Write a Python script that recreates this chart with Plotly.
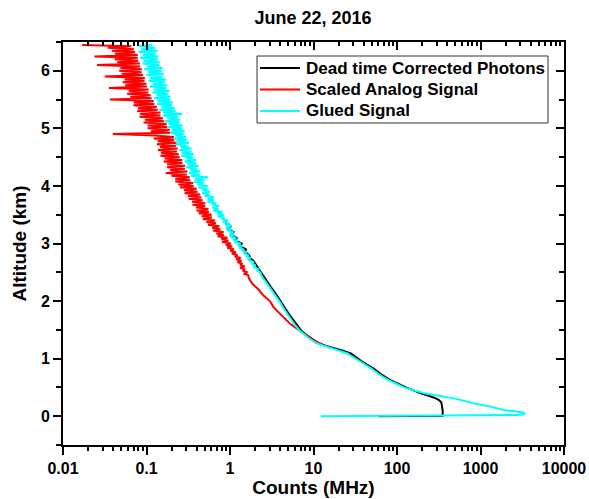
import plotly.graph_objects as go

# ---------------- data ----------------
black_alt = [0.0, 0.01, 0.10, 0.17, 0.24, 0.28, 0.31, 0.35, 0.40,
             0.50, 0.62, 0.72, 0.83, 0.95, 1.03, 1.09, 1.14, 1.18, 1.22,
             1.27, 1.35, 1.42, 1.49, 1.60, 1.72, 1.85, 2.00, 2.12, 2.24,
             2.36, 2.48, 2.55, 2.60, 2.65, 2.70, 2.75, 2.80, 2.85, 2.90,
             2.95, 3.00, 3.05, 3.10, 3.15, 3.20, 3.25, 3.30, 3.35]
black_counts = [60, 352, 352, 348, 340, 318, 292, 245, 193,
                128, 85, 66, 52, 38, 32, 28, 22, 17.5, 14.2,
                11.4, 9.4, 8.1, 7.1, 6.2, 5.4, 4.7, 4.05, 3.55, 3.1,
                2.72, 2.40, 2.22, 2.12, 1.98, 1.90, 1.74, 1.70, 1.52, 1.55,
                1.34, 1.38, 1.17, 1.20, 1.03, 1.10, 0.95, 1.02, 0.88]

red_alt = [1.25, 1.30, 1.40, 1.50, 1.60, 1.70, 1.80, 1.90, 2.00, 2.10, 2.20, 2.30, 2.40,
           2.450, 2.475, 2.500, 2.525, 2.550, 2.575, 2.600, 2.625,
           2.650, 2.675, 2.700, 2.725, 2.750, 2.775, 2.800, 2.825,
           2.850, 2.875, 2.900, 2.925, 2.950, 2.975, 3.000, 3.025,
           3.050, 3.075, 3.100, 3.125, 3.150, 3.175, 3.200, 3.225,
           3.250, 3.275, 3.300, 3.325, 3.350, 3.375, 3.400, 3.425,
           3.450, 3.475, 3.500, 3.525, 3.550, 3.575, 3.600, 3.625,
           3.650, 3.675, 3.700, 3.725, 3.750, 3.775, 3.800, 3.825,
           3.850, 3.875, 3.900, 3.925, 3.950, 3.975, 4.000, 4.025,
           4.050, 4.075, 4.100, 4.125, 4.150, 4.175, 4.200, 4.225,
           4.250, 4.275, 4.300, 4.325, 4.350, 4.375, 4.400, 4.425,
           4.450, 4.475, 4.500, 4.525, 4.550, 4.575, 4.600, 4.625,
           4.650, 4.675, 4.700, 4.725, 4.750, 4.775, 4.800, 4.825,
           4.850, 4.875, 4.900, 4.925, 4.950, 4.975, 5.000, 5.025,
           5.050, 5.075, 5.100, 5.125, 5.150, 5.175, 5.200, 5.225,
           5.250, 5.275, 5.300, 5.325, 5.350, 5.375, 5.400, 5.425,
           5.450, 5.475, 5.500, 5.525, 5.550, 5.575, 5.600, 5.625,
           5.650, 5.675, 5.700, 5.725, 5.750, 5.775, 5.800, 5.825,
           5.850, 5.875, 5.900, 5.925, 5.950, 5.975, 6.000, 6.025,
           6.050, 6.075, 6.100, 6.125, 6.150, 6.175, 6.200, 6.225,
           6.250, 6.275, 6.300, 6.325, 6.350, 6.375, 6.400, 6.425,
           6.450]
red_counts = [12.8, 10.5, 8.3, 6.6, 5.3, 4.5, 3.9, 3.3, 3.0, 2.5, 2.2, 1.85, 1.68,
              1.65, 1.46, 1.62, 1.42, 1.51, 1.32, 1.50, 1.32,
              1.41, 1.23, 1.37, 1.19, 1.34, 1.14, 1.23, 1.05,
              1.18, 1.01, 1.11, 0.924, 1.06, 0.891, 1.02, 0.805,
              0.958, 0.787, 0.932, 0.711, 0.848, 0.686, 0.836, 0.624,
              0.765, 0.612, 0.743, 0.544, 0.679, 0.522, 0.661, 0.473,
              0.605, 0.458, 0.601, 0.422, 0.559, 0.397, 0.551, 0.392,
              0.503, 0.356, 0.505, 0.352, 0.469, 0.319, 0.454, 0.315,
              0.439, 0.286, 0.408, 0.281, 0.398, 0.252, 0.366, 0.241,
              0.362, 0.221, 0.334, 0.221, 0.330, 0.199, 0.305, 0.170,
              0.309, 0.192, 0.288, 0.176, 0.290, 0.176, 0.269, 0.161,
              0.269, 0.165, 0.250, 0.147, 0.244, 0.149, 0.231, 0.137,
              0.236, 0.145, 0.226, 0.133, 0.229, 0.136, 0.216, 0.122,
              0.213, 0.126, 0.0395, 0.193, 0.113, 0.190, 0.103, 0.177,
              0.103, 0.174, 0.0923, 0.163, 0.0955, 0.157, 0.0826, 0.147,
              0.0836, 0.147, 0.0774, 0.136, 0.0790, 0.133, 0.0697, 0.124,
              0.0707, 0.122, 0.0364, 0.115, 0.0640, 0.112, 0.0587, 0.105,
              0.0613, 0.106, 0.0354, 0.101, 0.0555, 0.0996, 0.0518, 0.0947,
              0.0547, 0.0955, 0.0316, 0.0909, 0.0504, 0.0872, 0.0471, 0.0878,
              0.0487, 0.0839, 0.0256, 0.0832, 0.0445, 0.0794, 0.0416, 0.0787,
              0.0238, 0.0785, 0.0419, 0.0730, 0.0385, 0.0706, 0.0343, 0.0657,
              0.017]

cyan_alt = [0.0, 0.02, 0.04, 0.06, 0.08, 0.10, 0.13, 0.17, 0.225, 0.27,
            0.31, 0.35, 0.40, 0.45, 0.50, 0.62, 0.72, 0.83, 0.95, 1.03,
            1.09, 1.14, 1.18, 1.22, 1.27, 1.35, 1.42, 1.49, 1.60, 1.72,
            1.85, 2.00, 2.12, 2.24, 2.36, 2.45,
            2.500, 2.525, 2.550, 2.575, 2.600, 2.625, 2.650, 2.675,
            2.700, 2.725, 2.750, 2.775, 2.800, 2.825, 2.850, 2.875,
            2.900, 2.925, 2.950, 2.975, 3.000, 3.025, 3.050, 3.075,
            3.100, 3.125, 3.150, 3.175, 3.200, 3.225, 3.250, 3.275,
            3.300, 3.325, 3.350, 3.375, 3.400, 3.425, 3.450, 3.475,
            3.500, 3.525, 3.550, 3.575, 3.600, 3.625, 3.650, 3.675,
            3.700, 3.725, 3.750, 3.775, 3.800, 3.825, 3.850, 3.875,
            3.900, 3.925, 3.950, 3.975, 4.000, 4.025, 4.050, 4.075,
            4.100, 4.125, 4.150, 4.175, 4.200, 4.225, 4.250, 4.275,
            4.300, 4.325, 4.350, 4.375, 4.400, 4.425, 4.450, 4.475,
            4.500, 4.525, 4.550, 4.575, 4.600, 4.625, 4.650, 4.675,
            4.700, 4.725, 4.750, 4.775, 4.800, 4.825, 4.850, 4.875,
            4.900, 4.925, 4.950, 4.975, 5.000, 5.025, 5.050, 5.075,
            5.100, 5.125, 5.150, 5.175, 5.200, 5.225, 5.250, 5.275,
            5.300, 5.325, 5.350, 5.375, 5.400, 5.425, 5.450, 5.475,
            5.500, 5.525, 5.550, 5.575, 5.600, 5.625, 5.650, 5.675,
            5.700, 5.725, 5.750, 5.775, 5.800, 5.825, 5.850, 5.875,
            5.900, 5.925, 5.950, 5.975, 6.000, 6.025, 6.050, 6.075,
            6.100, 6.125, 6.150, 6.175, 6.200, 6.225, 6.250, 6.275,
            6.300, 6.325, 6.350, 6.375, 6.400, 6.425, 6.450]
cyan_counts = [12.2, 2800, 3400, 3300, 2700, 2050, 1650, 1300, 830, 620,
               480, 330, 212, 158, 122, 81, 62, 49, 35.5, 29.5,
               25.5, 20, 16.5, 13.3, 10.8, 8.9, 7.8, 6.8, 5.9, 5.15,
               4.5, 3.9, 3.4, 2.95, 2.6, 2.35,
               2.32, 2.09, 2.23, 2.00, 1.90, 2.02, 1.81, 1.93,
               1.75, 1.63, 1.76, 1.59, 1.65, 1.47, 1.59, 1.41,
               1.44, 1.29, 1.40, 1.24, 1.34, 1.13, 1.24, 1.08,
               1.19, 0.994, 1.11, 0.982, 1.10, 0.939, 1.03, 0.887,
               1.04, 0.893, 0.981, 0.824, 0.945, 0.791, 0.856, 0.712,
               0.844, 0.693, 0.810, 0.627, 0.728, 0.611, 0.740, 0.608,
               0.686, 0.536, 0.642, 0.539, 0.646, 0.499, 0.568, 0.465,
               0.577, 0.463, 0.539, 0.416, 0.537, 0.410, 0.481, 0.369,
               0.495, 0.380, 0.545, 0.341, 0.438, 0.323, 0.438, 0.335,
               0.403, 0.299, 0.419, 0.308, 0.392, 0.287, 0.390, 0.298,
               0.360, 0.259, 0.367, 0.266, 0.346, 0.249, 0.346, 0.255,
               0.318, 0.226, 0.326, 0.230, 0.304, 0.214, 0.299, 0.219,
               0.279, 0.193, 0.287, 0.200, 0.268, 0.182, 0.270, 0.184,
               0.251, 0.166, 0.253, 0.177, 0.237, 0.157, 0.269, 0.159,
               0.223, 0.142, 0.218, 0.151, 0.202, 0.134, 0.207, 0.137,
               0.194, 0.123, 0.193, 0.132, 0.181, 0.118, 0.188, 0.121,
               0.175, 0.110, 0.177, 0.118, 0.168, 0.106, 0.171, 0.111,
               0.157, 0.0996, 0.161, 0.104, 0.152, 0.093, 0.155, 0.101,
               0.142, 0.0901, 0.144, 0.0923, 0.137, 0.0844, 0.139, 0.0905,
               0.130, 0.0803, 0.135, 0.0861, 0.127, 0.0807, 0.118]

series_names = ["Dead time Corrected Photons", "Scaled Analog Signal", "Glued Signal"]
series_colors = ["#000000", "#FF0000", "#00FFFF"]
x_tick_vals = [0.01, 0.1, 1, 10, 100, 1000, 10000]
x_tick_text = ["0.01", "0.1", "1", "10", "100", "1000", "10000"]
y_tick_vals = [0, 1, 2, 3, 4, 5, 6]
y_tick_text = ["0", "1", "2", "3", "4", "5", "6"]

# ---------------- figure ----------------
FONT = "Liberation Sans, Arial, sans-serif"
W, H = 589, 499
ML, MR, MT, MB = 63, 25, 42, 54
PW, PH = W - ML - MR, H - MT - MB


def px(xp):   # pixel -> paper x
    return (xp - ML) / PW


def py(yp):   # pixel -> paper y
    return (H - MB - yp) / PH


x_minor = [m * 10.0 ** e for e in range(-2, 4) for m in range(2, 10)]
y_minor = [v + 0.5 for v in range(-1, 7)]

fig = go.Figure()
for xs, ys, name, col in [(black_counts, black_alt, series_names[0], series_colors[0]),
                          (red_counts, red_alt, series_names[1], series_colors[1]),
                          (cyan_counts, cyan_alt, series_names[2], series_colors[2])]:
    fig.add_trace(go.Scatter(x=xs, y=ys, mode="lines", name=name, showlegend=False,
                             line=dict(color=col, width=2)))
# invisible trace so the mirrored (top / right) tick axes are drawn
fig.add_trace(go.Scatter(x=[1], y=[3], xaxis="x2", yaxis="y2", mode="markers",
                         marker=dict(opacity=0), showlegend=False, hoverinfo="skip"))

# legend box (drawn by hand to match the compact Origin legend)
shapes = [dict(type="rect", xref="paper", yref="paper",
               x0=px(257), x1=px(548), y0=py(123), y1=py(56),
               line=dict(color="#333333", width=1), fillcolor="white", layer="above")]
annotations = []
for i, (name, col) in enumerate(zip(series_names, series_colors)):
    yy = py(68 + 21.5 * i)
    shapes.append(dict(type="line", xref="paper", yref="paper", x0=px(260), x1=px(300),
                       y0=yy, y1=yy, line=dict(color=col, width=2), layer="above"))
    annotations.append(dict(text=name, xref="paper", yref="paper", x=px(304), y=yy,
                            xanchor="left", yanchor="middle", showarrow=False,
                            font=dict(size=17, weight="bold", family=FONT, color="black")))

tick_common = dict(tickcolor="black", showgrid=False, zeroline=False)

fig.update_layout(
    width=W, height=H,
    margin=dict(l=ML, r=MR, t=MT, b=MB),
    paper_bgcolor="white", plot_bgcolor="white",
    font=dict(family=FONT, color="black"),
    showlegend=False,
    shapes=shapes, annotations=annotations,
    title=dict(text="June 22, 2016", x=313 / W, xanchor="center", y=1 - 18 / H,
               yanchor="middle", font=dict(size=18, weight="bold", family=FONT)),
    xaxis=dict(type="log", range=[-2, 4], tickmode="array", tickvals=x_tick_vals,
               ticktext=x_tick_text, ticks="outside", ticklen=8, tickwidth=2,
               showline=True, linewidth=2, linecolor="black", mirror=True,
               minor=dict(tickmode="array", tickvals=x_minor, ticks="outside",
                          ticklen=4, tickwidth=1.5, tickcolor="black", showgrid=False),
               tickfont=dict(size=16, weight="bold", family=FONT),
               title=dict(text="Counts (MHz)", standoff=0,
                          font=dict(size=19, weight="bold", family=FONT)),
               automargin=False, **tick_common),
    yaxis=dict(range=[-0.5, 6.5], tickmode="array", tickvals=y_tick_vals,
               ticktext=y_tick_text, ticks="outside", ticklen=8, tickwidth=2,
               showline=True, linewidth=2, linecolor="black", mirror=True,
               minor=dict(tickmode="array", tickvals=y_minor, ticks="outside",
                          ticklen=5, tickwidth=1.5, tickcolor="black", showgrid=False),
               tickfont=dict(size=16, weight="bold", family=FONT),
               title=dict(text="Altitude (km)", standoff=9,
                          font=dict(size=19, weight="bold", family=FONT)),
               automargin=False, **tick_common),
    xaxis2=dict(type="log", range=[-2, 4], overlaying="x", side="top",
                tickmode="array", tickvals=x_tick_vals, ticks="inside", ticklen=8,
                tickwidth=2, showticklabels=False, showline=False,
                minor=dict(tickmode="array", tickvals=x_minor, ticks="inside",
                           ticklen=4, tickwidth=1.5, tickcolor="black", showgrid=False),
                **tick_common),
    yaxis2=dict(range=[-0.5, 6.5], overlaying="y", side="right",
                tickmode="array", tickvals=y_tick_vals, ticks="inside", ticklen=8,
                tickwidth=2, showticklabels=False, showline=False,
                minor=dict(tickmode="array", tickvals=y_minor, ticks="inside",
                           ticklen=5, tickwidth=1.5, tickcolor="black", showgrid=False),
                **tick_common),
)

fig.write_html("out.html", config={"displayModeBar": False},
               post_script="document.body.style.margin='0px';")
